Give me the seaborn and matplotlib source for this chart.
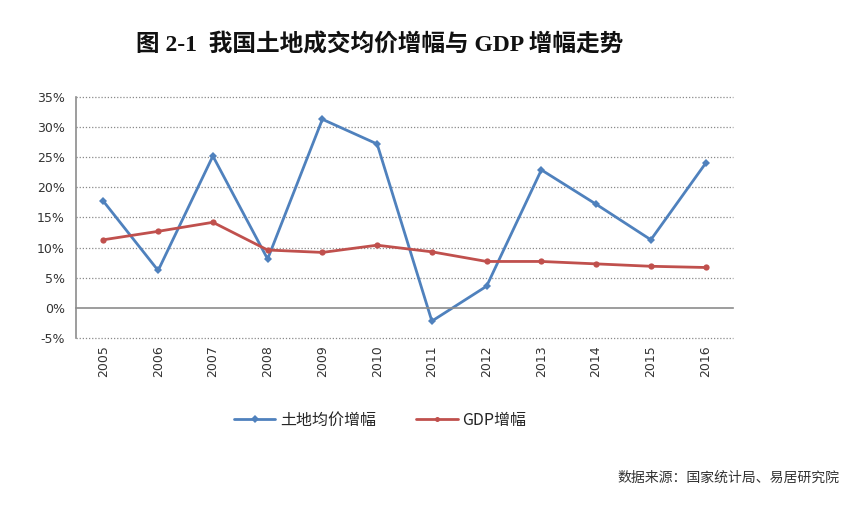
import numpy as np
import pandas as pd
import matplotlib
matplotlib.use('Agg')
import matplotlib.pyplot as plt
import seaborn as sns
from matplotlib.ticker import FuncFormatter

# values (percent)
years = ['2005', '2006', '2007', '2008', '2009', '2010',
         '2011', '2012', '2013', '2014', '2015', '2016']
land_price = [17.7, 6.2, 25.2, 8.1, 31.3, 27.2, -2.2, 3.6, 22.9, 17.2, 11.3, 24.0]
gdp = [11.3, 12.7, 14.2, 9.6, 9.2, 10.4, 9.3, 7.7, 7.7, 7.3, 6.9, 6.7]
series_names = ['土地均价增幅', 'GDP增幅']
y_ticks = [-5, 0, 5, 10, 15, 20, 25, 30, 35]

sns.set_style('white')
plt.rcParams['font.family'] = ['Noto Sans CJK SC', 'DejaVu Sans']

df = pd.DataFrame({
    'pos': list(range(len(years))) * 2,
    'value': land_price + gdp,
    'series': [series_names[0]] * len(years) + [series_names[1]] * len(years),
})

fig = plt.figure(figsize=(8.56, 5.11), dpi=100)
ax = fig.add_axes([0.0888, 0.3386, 0.7675, 0.4716])

sns.lineplot(data=df, x='pos', y='value', hue='series', style='series',
             palette=['#4F81BD', '#C0504D'], markers=['D', 'o'], dashes=False,
             markersize=4.5, linewidth=2.0, markeredgewidth=0, ax=ax)

ax.set_xlim(-0.5, len(years) - 0.5)
ax.set_ylim(-5, 35)
ax.set_xlabel('')
ax.set_ylabel('')

axis_gray = '#8C8C8C'
for s in ['top', 'right']:
    ax.spines[s].set_visible(False)
ax.spines['left'].set_color(axis_gray)
ax.spines['left'].set_linewidth(1.2)
ax.spines['bottom'].set_position(('data', 0))
ax.spines['bottom'].set_color(axis_gray)
ax.spines['bottom'].set_linewidth(1.2)

# dotted grid, except at the 0% axis line
for v in y_ticks:
    if v != 0:
        ax.axhline(v, color='#8A8A8A', linestyle=(0, (1, 1.5)), linewidth=0.9,
                   zorder=0, clip_on=False)

ax.set_yticks(y_ticks)
ax.yaxis.set_major_formatter(FuncFormatter(lambda v, p: f'{int(v)}%'))
ax.tick_params(axis='y', length=5, color=axis_gray, labelsize=9,
               labelcolor='#333333', pad=3)
for lab in ax.get_yticklabels():
    lab.set_family(['DejaVu Sans'])

ax.set_xticks(range(len(years)))
ax.set_xticklabels([])
ax.tick_params(axis='x', which='major', length=0)
ax.set_xticks(np.arange(0.5, len(years), 1), minor=True)
ax.tick_params(axis='x', which='minor', length=6, width=1.2, color=axis_gray, direction='out')

sec = ax.secondary_xaxis('bottom')
sec.set_xticks(range(len(years)), labels=years, rotation=90)
sec.tick_params(length=0, pad=5, labelsize=9, labelcolor='#333333')
sec.spines['bottom'].set_visible(False)
for lab in sec.get_xticklabels():
    lab.set_family(['DejaVu Sans'])

handles, labels = ax.get_legend_handles_labels()
ax.legend_.remove()
fig.legend(handles, labels, loc='center', bbox_to_anchor=(0.444, 0.178), ncol=2,
           frameon=False, fontsize=11.5, handlelength=2.6, columnspacing=2.5,
           handletextpad=0.3, markerscale=0.8)

fig.text(0.444, 1 - 45 / 511, '图 2-1  我国土地成交均价增幅与 GDP 增幅走势',
         ha='center', va='center', fontsize=17, fontweight='semibold',
         family=['Liberation Serif', 'Noto Sans CJK SC'], color='#111111')
fig.text(0.981, 1 - 478 / 511, '数据来源：国家统计局、易居研究院',
         ha='right', va='center', fontsize=10, color='#333333')

fig.savefig('out.png', dpi=100)
